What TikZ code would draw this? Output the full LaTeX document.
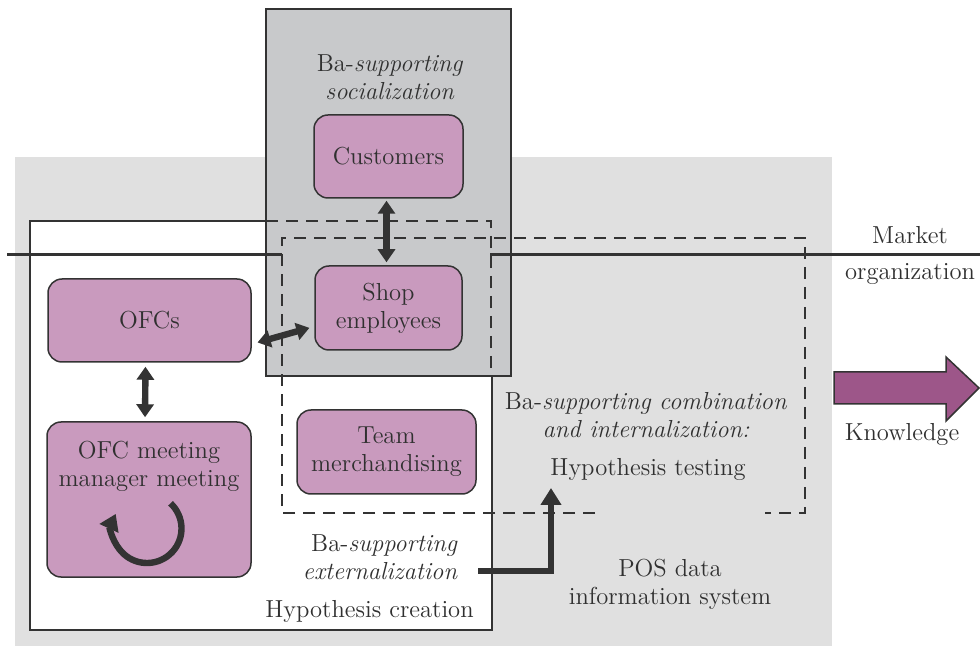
\documentclass[tikz,border=0pt]{standalone}
\usetikzlibrary{arrows.meta}

\definecolor{ink}{HTML}{333333}
\definecolor{textcol}{HTML}{303030}
\definecolor{boxpink}{HTML}{C99ABE}
\definecolor{arrowplum}{HTML}{9D5689}
\definecolor{posgrey}{HTML}{E0E0E0}
\definecolor{socgrey}{HTML}{C8C9CB}

\tikzset{
  actor/.style={draw=ink, fill=boxpink, line width=0.75pt, rounded corners=7pt, inner sep=0pt, align=center},
  lbl/.style={align=center, inner sep=0pt},
  twoway/.style={draw=ink, line width=3.2pt, {Triangle[length=6.5pt,width=8.5pt]}-{Triangle[length=6.5pt,width=8.5pt]}},
  oneway/.style={draw=ink, line width=3pt, -{Triangle[length=8.5pt,width=10pt]}},
  boxline/.style={draw=ink, line width=0.6pt},
  dashline/.style={draw=ink, line width=0.6pt, dash pattern=on 6pt off 4pt},
}

\begin{document}
\begin{tikzpicture}[x=0.5pt, y=-0.5pt, font=\fontsize{12.3}{14}\selectfont, text=textcol]
    \useasboundingbox (0,0) rectangle (980,646);

    % areas
    \fill[posgrey] (15,157) rectangle (832,646);
    \draw[boxline, fill=white] (30,221) rectangle (492,630);
    \draw[boxline, fill=socgrey] (266,9) rectangle (511,376);
    \draw[dashline] (266,221) -- (491,221) -- (491,376);
    \draw[dashline] (595,513) -- (282,513) -- (282,238) -- (805,238) -- (805,513) -- (765,513);

    % market / organization border
    \draw[ink, line width=1.5pt] (7,255) -- (282,255);
    \draw[ink, line width=1.5pt] (490,255) -- (980,255);

    % actors
    \node[actor, minimum width=74.5pt, minimum height=41.5pt] (cust) at (388.5,156.5) {Customers};
    \node[actor, minimum width=73.5pt, minimum height=42pt] (shop) at (388.5,308) {Shop\\employees};
    \node[actor, minimum width=101.5pt, minimum height=41.5pt] (ofcs) at (149.5,320.5) {OFCs};
    \node[actor, minimum width=102pt, minimum height=77.5pt] (meet) at (149,499.5) {};
    \node[lbl] (meetlbl) at (149,466) {OFC meeting\\manager meeting};
    \node[actor, minimum width=89.5pt, minimum height=42pt] (team) at (386.5,452) {Team\\merchandising};

    \draw[twoway, shorten <=1pt, shorten >=1.5pt] ([xshift=-1pt]cust.south) -- ([xshift=-1pt]shop.north);
    \draw[twoway, shorten <=3pt, shorten >=2.5pt] (ofcs.-13) -- (shop.-166);
    \draw[twoway, shorten <=2pt, shorten >=2pt] ([xshift=-2pt]ofcs.south) -- ([xshift=-2pt]meet.north);
    \draw[ink, line width=3.2pt, -{Triangle[length=8pt,width=10pt]}] (147,528.5) ++(-47:34.5) arc[start angle=-47, end angle=205, radius=34.5];

    % texts
    \node[lbl] (soclbl) at (390,77) {Ba-\textit{supporting}\\\textit{socialization}};
    \node[lbl] (comblbl) at (646,415) {Ba-\textit{supporting combination}\\\textit{and internalization:}};
    \node[lbl] (testlbl) at (648,469) {Hypothesis testing};
    \node[lbl, anchor=east, align=right] (extlbl) at (458,557) {Ba-\textit{supporting}\\\textit{externalization}};
    \node[lbl] (createlbl) at (369.5,611) {Hypothesis creation};
    \node[lbl] (poslbl) at (670,584) {POS data\\information system};
    \node[lbl] (marketlbl) at (910,235) {Market};
    \node[lbl] (orglbl) at (910,274) {organization};
    \node[lbl] (knowlbl) at (902,434) {Knowledge};

    \coordinate (extout) at (478,571);
    \coordinate (testin) at (551,488);
    \draw[oneway] (extout) -| (testin);

    % knowledge arrow
    \draw[ink, line width=0.75pt, fill=arrowplum] (834,372) -- (946,372) -- (946,357) -- (979,388) -- (946,421) -- (946,404) -- (834,404) -- cycle;
\end{tikzpicture}
\end{document}
